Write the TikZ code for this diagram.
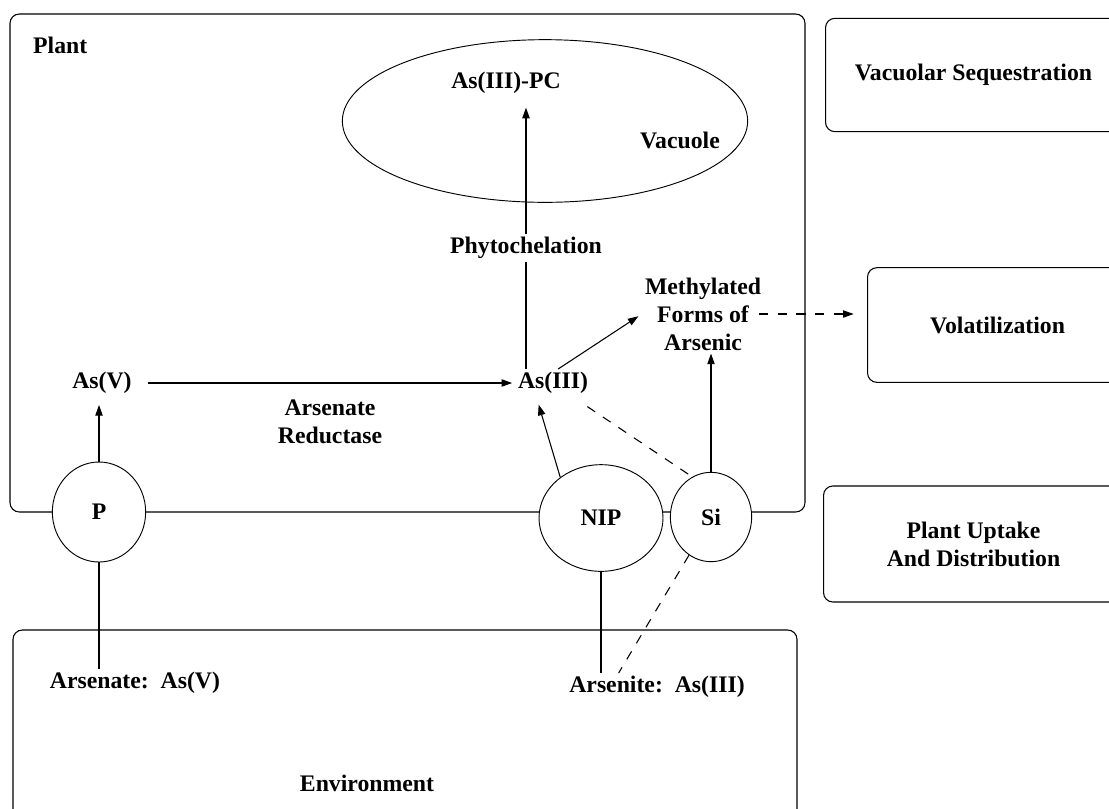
\documentclass[tikz,border=0pt]{standalone}
\usepackage{fontspec}
\setmainfont{Liberation Serif}
\usetikzlibrary{shapes.geometric,arrows.meta}

\tikzset{
	lbl/.style={font=\fontsize{17.8}{21}\selectfont\bfseries, inner sep=2pt, align=center},
	wlbl/.style={lbl, fill=white},
	memb/.style={draw, ellipse, fill=white, line width=0.7pt, lbl},
	sidebox/.style={draw, rounded corners=7pt, line width=0.8pt, lbl, anchor=west},
	dsh/.style={dash pattern=on 7pt off 7pt}
}

\begin{document}
\begin{tikzpicture}[x=0.75pt,y=-0.75pt,line width=0.8pt,>={Triangle[length=8pt,width=5.5pt]}]
	\clip (0,0) rectangle (1109,808);

	\draw[rounded corners=7pt] (10,14) rectangle (805,512);
	\draw[rounded corners=7pt] (13,630) rectangle (797,840);

	\node[sidebox, minimum width=222pt, minimum height=85pt] (vacseq) at (825,75) {Vacuolar Sequestration};
	\node[sidebox, minimum width=195pt, minimum height=86pt] (volat) at (867,325) {Volatilization};
	\node[sidebox, minimum width=225pt, minimum height=87pt] (uptake) at (823,544) {Plant Uptake\\And Distribution};

	\node[draw, ellipse, minimum width=304pt, minimum height=122pt, line width=0.7pt] (vacuole) at (545,121) {};
	\node[lbl] (aspc) at (506,83) {As(III)-PC};
	\node[lbl] (vaclbl) at (680,140) {Vacuole};
	\node[lbl, anchor=west] (plant) at (30,45) {Plant};

	\node[lbl] (asv) at (102,383) {As(V)};
	\node[lbl] (asiii) at (553,383) {As(III)};
	\node[lbl] (reduct) at (330,422) {Arsenate\\Reductase};
	\node[wlbl] (phyto) at (526,248) {Phytochelation};
	\node[lbl] (meth) at (703,314) {Methylated\\Forms of\\Arsenic};

	\node[memb, minimum width=70pt, minimum height=75pt] (P) at (99,512) {P};
	\node[memb, minimum width=93pt, minimum height=80pt] (NIP) at (601,518) {NIP};
	\node[memb, minimum width=61pt, minimum height=67pt] (Si) at (711,517) {Si};

	\node[lbl] (arsenate) at (135,683) {Arsenate:\ \ As(V)};
	\node[lbl] (arsenite) at (657,687) {Arsenite:\ \ As(III)};
	\node[lbl] (env) at (367,783) {Environment};

	\draw[->, shorten >=6pt] (P.north) -- (P.north |- asv.south);
	\draw (P.south) -- (P.south |- arsenate.north);
	\draw[->, shorten <=10pt, shorten >=2pt] (asv) -- (asiii);
	\draw (phyto |- asiii.north) -- (phyto.south);
	\draw[->, shorten >=8pt] (phyto.north) -- (phyto |- aspc.south);
	\draw[->, shorten >=3pt] (asiii.70) -- (meth.west);
	\draw[->, dsh, shorten <=-4pt, shorten >=10pt] (meth.east) -- (meth.east -| volat.west);
	\draw[->] (Si.north) -- (Si.north |- meth.south);
	\draw[->, shorten >=6pt] (NIP.135) -- (asiii.220);
	\draw[dsh, shorten <=13pt] (asiii.-35) -- (Si.115);
	\draw[dsh] (Si.240) -- (arsenite.160);
	\draw (NIP.south) -- (NIP.south |- arsenite.north);
\end{tikzpicture}
\end{document}
